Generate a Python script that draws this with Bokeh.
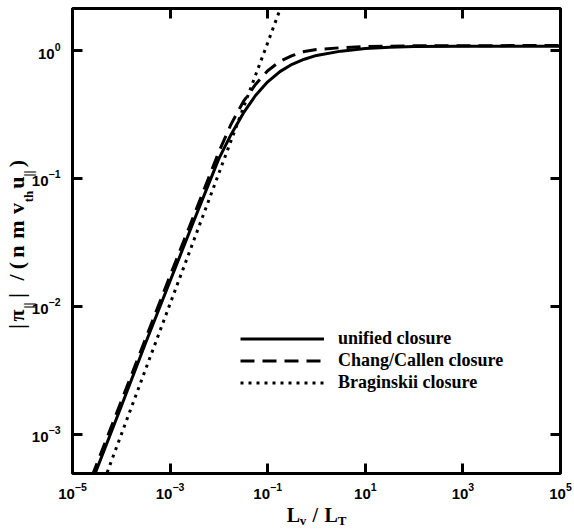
import math
from bokeh.plotting import figure
from bokeh.models import (FixedTicker, LogAxis, Legend, LegendItem,
                          CustomJSTickFormatter, Range1d)
from bokeh.embed import file_html
from bokeh.resources import INLINE

# ---- data ----
x_unified = [2.5e-5, 1e-4, 3.16e-4, 1e-3, 3.16e-3, 1e-2, 1.78e-2, 3.16e-2, 5.62e-2, 0.1,
             0.178, 0.316, 0.562, 1.0, 3.16, 10, 31.6, 100, 1e3, 1e5]
y_unified = [4.27e-4, 1.66e-3, 5.2e-3, 1.58e-2, 4.8e-2, 0.143, 0.221, 0.324, 0.445, 0.569,
             0.684, 0.78, 0.855, 0.916, 0.989, 1.035, 1.062, 1.074, 1.08, 1.08]

x_chang = [2.5e-5, 1e-4, 1e-3, 3.16e-3, 1e-2, 1.78e-2, 3.16e-2, 5.62e-2, 0.1,
           0.178, 0.316, 0.562, 1.0, 3.16, 10, 100, 1e5]
y_chang = [4.7e-4, 1.82e-3, 1.74e-2, 5.3e-2, 0.162, 0.266, 0.398, 0.543, 0.695,
           0.822, 0.912, 0.982, 1.019, 1.052, 1.074, 1.089, 1.094]

x_brag = [4.5e-5, 1e-4, 1e-3, 1e-2, 1e-1, 2e-1]
y_brag = [4.4e-4, 1.0e-3, 1.05e-2, 0.11, 1.15, 2.35]

x_ticks = [1e-5, 1e-3, 1e-1, 1e1, 1e3, 1e5]
y_ticks = [1e-3, 1e-2, 1e-1, 1e0]

legend_labels = ["unified closure", "Chang/Callen closure", "Braginskii closure"]

# axis-title pieces: (text, pixel position of the piece centre along the axis)
xtitle_main = [("L", 291.7), ("/", 313.8), ("L", 329.7)]
xtitle_sub = [("v", 301.5), ("T", 340.7)]
# y title: distance (px) from the title's start, reading upward
ytitle_main = [("|", 4), ("π", 15), ("|", 35), ("/", 53), ("(", 65), ("n", 79),
               ("m", 101), ("v", 122), ("u", 148), (")", 167)]
ytitle_sub = [("||", 25), ("th", 134), ("||", 157)]

# ---- layout constants (pixels) ----
W, H = 574, 531
LEFT, RIGHT, TOP, BOTTOM = 70, 560, 8, 473
XLOG = (-5.0, 5.0)
YLOG = (math.log10(4.95e-4), math.log10(2.13))

def px_to_x(px):
    return 10 ** (XLOG[0] + (px - LEFT) * (XLOG[1] - XLOG[0]) / (RIGHT - LEFT))

def py_to_y(py):
    return 10 ** (YLOG[1] - (py - TOP) * (YLOG[1] - YLOG[0]) / (BOTTOM - TOP))

# ---- figure ----
p = figure(width=W, height=H, x_axis_type="log", y_axis_type="log",
           x_range=Range1d(10 ** XLOG[0], 10 ** XLOG[1]),
           y_range=Range1d(10 ** YLOG[0], 10 ** YLOG[1]),
           output_backend="svg", toolbar_location=None,
           min_border_left=LEFT, min_border_right=W - RIGHT,
           min_border_top=TOP, min_border_bottom=H - BOTTOM)
p.background_fill_color = "white"
p.border_fill_color = "white"
p.outline_line_color = "black"
p.outline_line_width = 3
p.xgrid.visible = False
p.ygrid.visible = False

TICK_FONT = "Liberation Sans"
SERIF = "Liberation Serif"

def style_axis(ax, ticks, standoff):
    ax.ticker = FixedTicker(ticks=ticks, minor_ticks=[])
    ax.axis_line_color = None
    ax.major_tick_in = 10
    ax.major_tick_out = 0
    ax.major_tick_line_width = 3
    ax.major_tick_line_color = "black"
    ax.minor_tick_line_color = None
    ax.major_label_text_font = TICK_FONT
    ax.major_label_text_font_style = "bold"
    ax.major_label_text_font_size = "15px"
    ax.major_label_text_color = "black"
    ax.major_label_standoff = standoff

style_axis(p.xaxis[0], x_ticks, 9)
style_axis(p.yaxis[0], y_ticks, 12)

blank = CustomJSTickFormatter(code="return ''")
top = LogAxis(formatter=blank)
right = LogAxis(formatter=blank)
style_axis(top, x_ticks, 0)
style_axis(right, y_ticks, 0)
top.major_label_text_font_size = "1px"
right.major_label_text_font_size = "1px"
p.add_layout(top, "above")
p.add_layout(right, "right")

def title_axis(pieces, conv, size, standoff, vertical):
    ticks = [conv(pos) for _, pos in pieces]
    labels = [t for t, _ in pieces]
    ax = LogAxis(ticker=FixedTicker(ticks=ticks, minor_ticks=[]),
                 formatter=CustomJSTickFormatter(args=dict(labels=labels),
                                                 code="return labels[index]"))
    ax.axis_line_color = None
    ax.major_tick_line_color = None
    ax.minor_tick_line_color = None
    ax.major_tick_in = 0
    ax.major_tick_out = 0
    ax.major_label_text_font = SERIF
    ax.major_label_text_font_style = "bold"
    ax.major_label_text_font_size = f"{size}px"
    ax.major_label_text_color = "black"
    ax.major_label_standoff = standoff
    if vertical:
        ax.major_label_orientation = "vertical"
    return ax

# x title: L_v / L_T (main glyphs, then the subscripts just below)
p.add_layout(title_axis(xtitle_main, px_to_x, 20, 2, False), "below")
p.add_layout(title_axis(xtitle_sub, px_to_x, 13, -16, False), "below")

# y title: |π_∥| / ( n m v_th u_∥ ), reading upward from y = 330 px
Y0 = 330
p.add_layout(title_axis([(t, Y0 - d) for t, d in ytitle_sub], py_to_y, 13, -7, True), "left")
p.add_layout(title_axis([(t, Y0 - d) for t, d in ytitle_main], py_to_y, 22, -11, True), "left")

# ---- curves ----
r1 = p.line(x_unified, y_unified, line_color="black", line_width=3)
r2 = p.line(x_chang, y_chang, line_color="black", line_width=3, line_dash="14 8")
r3 = p.line(x_brag, y_brag, line_color="black", line_width=3, line_dash="3 5")

legend = Legend(items=[LegendItem(label=legend_labels[0], renderers=[r1]),
                       LegendItem(label=legend_labels[1], renderers=[r2]),
                       LegendItem(label=legend_labels[2], renderers=[r3])],
                location=(168, 80), padding=0, margin=0, spacing=1,
                glyph_width=84, glyph_height=21, label_standoff=14,
                label_text_font=SERIF, label_text_font_style="bold",
                label_text_font_size="18px", label_text_color="black",
                border_line_color=None, background_fill_alpha=0)
p.add_layout(legend)

open("out.html", "w").write(file_html(p, INLINE))
